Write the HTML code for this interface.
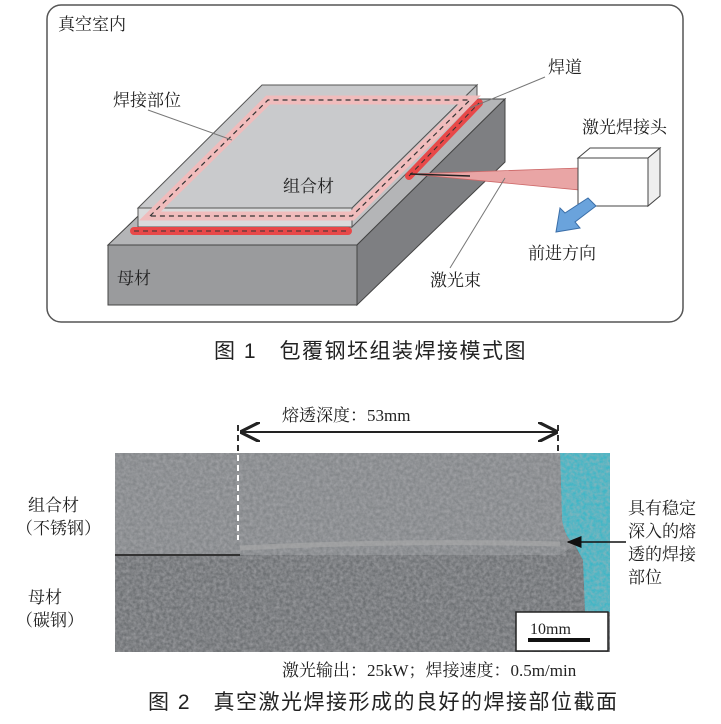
<!DOCTYPE html>
<html><head><meta charset="utf-8"><style>
body{margin:0;background:#fff;width:721px;height:719px;overflow:hidden}
svg text{font-family:"Liberation Serif","Noto Serif CJK SC",serif;fill:#222}
</style></head><body>
<svg width="721" height="719" viewBox="0 0 721 719" xmlns="http://www.w3.org/2000/svg">
<defs>
<filter id="n" x="0" y="0" width="1" height="1"><feTurbulence type="fractalNoise" baseFrequency="0.3" numOctaves="3" seed="3"/><feColorMatrix type="matrix" values="0 0 0 0 0.45  0 0 0 0 0.45  0 0 0 0 0.47  0 0 0 0.9 -0.2"/></filter>
<marker id="ah" markerWidth="10" markerHeight="10" refX="9" refY="5" orient="auto"><path d="M0,0 L10,5 L0,10" fill="none" stroke="#222" stroke-width="1.6"/></marker>
<marker id="ah2" markerWidth="10" markerHeight="10" refX="9" refY="5" orient="auto"><path d="M0,1 L10,5 L0,9z" fill="#111"/></marker>
</defs>
<rect x="47" y="5" width="636" height="317" rx="14" fill="#fff" stroke="#555" stroke-width="1.5"/>
<text x="58" y="30" font-size="17">真空室内</text>
<polygon points="108,245 260,99 505,99 357,245" fill="#b4b5b7" stroke="#444"/>
<polygon points="108,245 357,245 357,305 108,305" fill="#9a9b9d" stroke="#444"/>
<polygon points="357,245 505,99 505,162 357,305" fill="#7e7f82" stroke="#444"/>
<polygon points="138,208 262,85 477,85 352,208" fill="#c9cacc" stroke="#555"/>
<polygon points="138,208 352,208 352,227 138,227" fill="#dadbdc" stroke="#555"/>
<polygon points="352,208 477,85 477,104 352,227" fill="#c2c3c5" stroke="#555"/>
<polygon points="150,216 268,100 470,100 352,216" fill="none" stroke="#f0bcbc" stroke-width="9"/>
<polygon points="150,216 268,100 470,100 352,216" fill="none" stroke="#333" stroke-width="1.2" stroke-dasharray="5,4"/>
<line x1="134" y1="231" x2="348" y2="231" stroke="#e84848" stroke-width="8" stroke-linecap="round"/>
<line x1="134" y1="231" x2="348" y2="231" stroke="#333" stroke-width="1" stroke-dasharray="5,4"/>
<line x1="409" y1="176" x2="479" y2="103" stroke="#e84848" stroke-width="8" stroke-linecap="round"/>
<line x1="409" y1="176" x2="479" y2="103" stroke="#333" stroke-width="1" stroke-dasharray="5,4"/>
<polygon points="410,174 580,168 580,190" fill="#e9a5a5" stroke="#c66" stroke-width="0.8"/>
<line x1="410" y1="174" x2="470" y2="176" stroke="#222" stroke-width="1.5"/>
<polygon points="578,158 590,148 660,148 648,158" fill="#fff" stroke="#444"/>
<rect x="578" y="158" width="70" height="48" fill="#fff" stroke="#444"/>
<polygon points="648,158 660,148 660,196 648,206" fill="#eee" stroke="#444"/>
<polygon points="588,198 596,206 575,222 580,228 556,232 560,208 565,213" fill="#6aa3dc" stroke="#3a6ea8"/>
<line x1="148" y1="110" x2="232" y2="140" stroke="#777"/>
<line x1="545" y1="77" x2="470" y2="108" stroke="#777"/>
<line x1="450" y1="268" x2="505" y2="178" stroke="#777"/>
<text x="113" y="106" font-size="17">焊接部位</text>
<text x="548" y="73" font-size="17">焊道</text>
<text x="582" y="133" font-size="17">激光焊接头</text>
<text x="283" y="192" font-size="17">组合材</text>
<text x="528" y="259" font-size="17">前进方向</text>
<text x="430" y="286" font-size="17">激光束</text>
<text x="117" y="284" font-size="17">母材</text>
<text x="214" y="358" font-size="21" letter-spacing="1.5" style="font-family:'Liberation Sans','Noto Sans CJK SC',sans-serif">图 1　包覆钢坯组装焊接模式图</text>
<rect x="560" y="453" width="50" height="160" fill="#3fb6c6"/>
<path d="M115,453 L560,453 L562,520 Q565,538 575,545 L583,560 L585,612 L610,612 L610,652 L115,652Z" fill="#6e7174"/>
<path d="M115,453 L560,453 L562,520 Q565,538 575,545 L560,555 L115,555Z" fill="#84878a"/>
<rect x="115" y="453" width="495" height="199" filter="url(#n)"/>
<line x1="115" y1="555" x2="240" y2="555" stroke="#333" stroke-width="2"/>
<path d="M240,548 Q400,540 560,544" stroke="#aaa" stroke-width="5" fill="none" opacity="0.6"/>
<rect x="516" y="612" width="92" height="39" fill="#fff" stroke="#222" stroke-width="1.5"/>
<text x="530" y="634" font-size="16">10mm</text>
<rect x="528" y="638" width="62" height="4" fill="#111"/>
<line x1="238" y1="425" x2="238" y2="540" stroke="#fff" stroke-width="2" stroke-dasharray="6,4"/>
<line x1="238" y1="425" x2="238" y2="453" stroke="#333" stroke-width="2" stroke-dasharray="6,4"/>
<line x1="558" y1="425" x2="558" y2="453" stroke="#333" stroke-width="2" stroke-dasharray="6,4"/>
<line x1="244" y1="432" x2="556" y2="432" stroke="#222" stroke-width="2" marker-end="url(#ah)"/>
<line x1="550" y1="432" x2="242" y2="432" stroke="#222" stroke-width="2" marker-end="url(#ah)"/>
<text x="282" y="421" font-size="17">熔透深度：53mm</text>
<line x1="626" y1="542" x2="568" y2="542" stroke="#111" stroke-width="1.5" marker-end="url(#ah2)"/>
<text x="28" y="511" font-size="17">组合材</text>
<text x="16" y="534" font-size="17">（不锈钢）</text>
<text x="28" y="603" font-size="17">母材</text>
<text x="16" y="626" font-size="17">（碳钢）</text>
<text x="628" y="514" font-size="17">具有稳定</text>
<text x="628" y="537" font-size="17">深入的熔</text>
<text x="628" y="560" font-size="17">透的焊接</text>
<text x="628" y="583" font-size="17">部位</text>
<text x="282" y="676" font-size="17">激光输出：25kW；焊接速度：0.5m/min</text>
<text x="148" y="709" font-size="21" letter-spacing="1.5" style="font-family:'Liberation Sans','Noto Sans CJK SC',sans-serif">图 2　真空激光焊接形成的良好的焊接部位截面</text>
</svg>
</body></html>
